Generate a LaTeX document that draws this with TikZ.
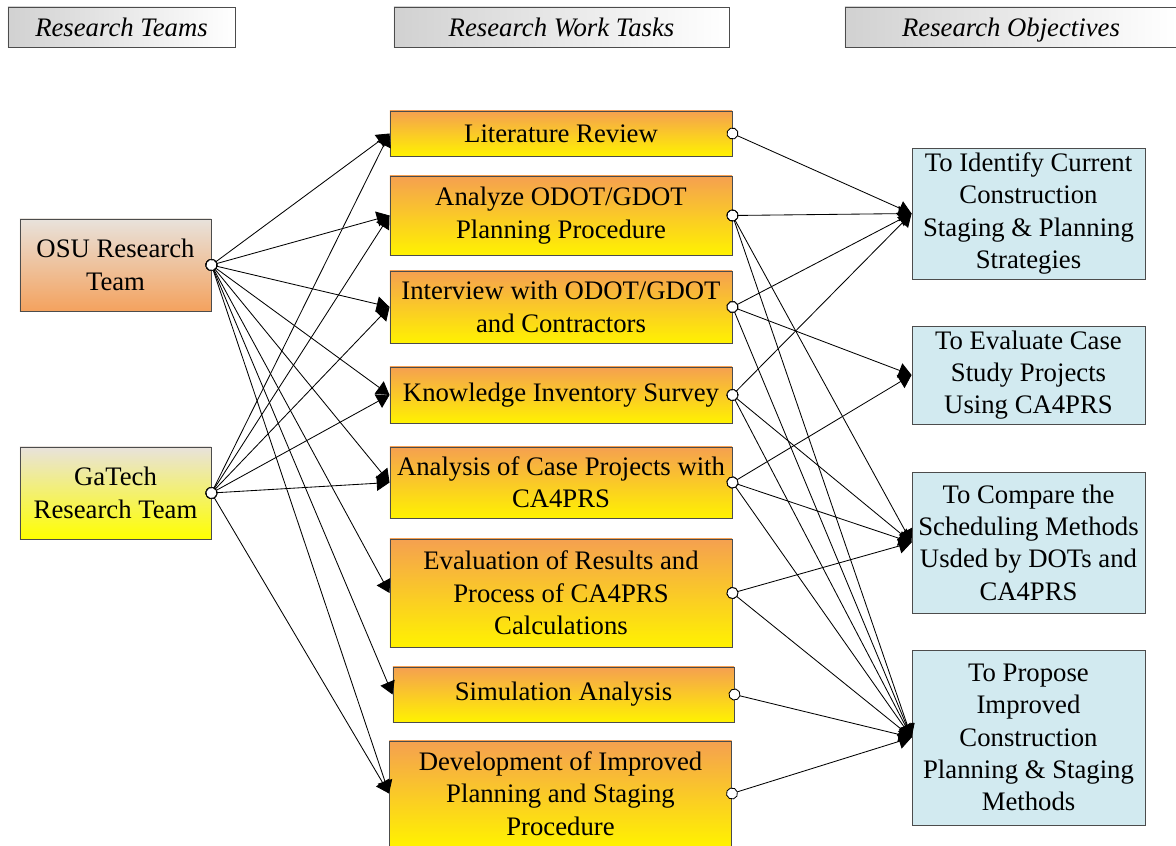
\documentclass[tikz,border=0pt]{standalone}
\usepackage{fontspec}
\setmainfont{Liberation Serif}
\usepackage{xcolor}
\usetikzlibrary{arrows.meta, positioning}

\definecolor{taskorange}{RGB}{245,160,80}
\definecolor{taskyellow}{RGB}{255,242,0}
\definecolor{teamgray}{RGB}{232,226,220}
\definecolor{osuorange}{RGB}{244,162,94}
\definecolor{gayellow}{RGB}{255,255,0}
\definecolor{goalblue}{RGB}{210,234,240}

\begin{document}
\begin{tikzpicture}[
    x=0.025cm, y=-0.025cm,
    box/.style={rectangle, draw=black!70, line width=0.6pt, align=center, inner sep=0pt, font=\fontsize{19}{23}\selectfont},
    header/.style={box, left color=black!18, right color=white, font=\fontsize{19}{23}\selectfont\itshape, minimum height=1cm, text height=13pt, text depth=0pt},
    team/.style={box, minimum width=4.775cm, minimum height=2.3cm},
    task/.style={box, top color=taskorange, bottom color=taskyellow, minimum width=8.55cm},
    goal/.style={box, fill=goalblue, minimum width=5.825cm},
    link/.style={line width=0.6pt, {Circle[fill=white, length=3mm]}-{Triangle[length=3.2mm, width=3.8mm]}, shorten <=-1.5mm}
]
\useasboundingbox (0,0) rectangle (1176,846);

% Headers
\node (hteams) [header, minimum width=5.675cm] at (121.5,27) {Research Teams};
\node (htasks) [header, minimum width=8.375cm] at (561.5,27) {Research Work Tasks};
\node (hgoals) [header, minimum width=8.3cm] at (1011,27) {Research Objectives};

% Research teams
\node (osu) [team, top color=teamgray, bottom color=osuorange] at (115.5,265) {OSU Research\\Team};
\node (gatech) [team, top color=teamgray, bottom color=gayellow] at (115.5,493) {GaTech\\Research Team};

% Work tasks
\node (lit) [task, minimum height=1.125cm] at (561,133.5) {Literature Review};
\node (analyze) [task, minimum height=1.975cm] at (561,215.5) {Analyze ODOT/GDOT\\Planning Procedure};
\node (interview) [task, minimum height=1.8cm] at (561,307) {Interview with ODOT/GDOT\\and Contractors};
\node (survey) [task, minimum height=1.4cm] at (561,395) {Knowledge Inventory Survey};
\node (cases) [task, minimum height=1.775cm] at (561,482.5) {Analysis of Case Projects with\\CA4PRS};
\node (results) [task, minimum height=2.7cm] at (561,593) {Evaluation of Results and\\Process of CA4PRS\\Calculations};
\node (simulation) [task, minimum width=8.525cm, minimum height=1.375cm] at (563.5,694.5) {Simulation Analysis};
\node (develop) [task, minimum height=2.625cm] at (560.5,793.5) {Development of Improved\\Planning and Staging\\Procedure};

% Objectives
\node (identify) [goal, minimum height=3.275cm] at (1028.5,213.5) {To Identify Current\\Construction\\Staging \& Planning\\Strategies};
\node (evaluate) [goal, minimum height=2.45cm] at (1028.5,375) {To Evaluate Case\\Study Projects\\Using CA4PRS};
\node (compare) [goal, minimum height=3.525cm] at (1028.5,542.5) {To Compare the\\Scheduling Methods\\Usded by DOTs and\\CA4PRS};
\node (propose) [goal, minimum height=4.375cm] at (1028.5,737.5) {To Propose\\Improved\\Construction\\Planning \& Staging\\Methods};

% Teams to tasks
\draw [link] (osu.east) -- (lit.west);
\draw [link] (osu.east) -- (analyze.west);
\draw [link] (osu.east) -- (interview.west);
\draw [link] (osu.east) -- (survey.west);
\draw [link] (osu.east) -- (cases.west);
\draw [link] (osu.east) -- (results.west);
\draw [link] (osu.east) -- (simulation.west);
\draw [link] (osu.east) -- (develop.west);
\draw [link] (gatech.east) -- (lit.west);
\draw [link] (gatech.east) -- (analyze.west);
\draw [link] (gatech.east) -- (interview.west);
\draw [link] (gatech.east) -- (survey.west);
\draw [link] (gatech.east) -- (cases.west);
\draw [link] (gatech.east) -- (develop.west);

% Tasks to objectives
\draw [link] (lit.east) -- (identify.west);
\draw [link] (analyze.east) -- (identify.west);
\draw [link] (analyze.east) -- (compare.west);
\draw [link] (analyze.east) -- (propose.west);
\draw [link] (interview.east) -- (identify.west);
\draw [link] (interview.east) -- (evaluate.west);
\draw [link] (interview.east) -- (propose.west);
\draw [link] (survey.east) -- (identify.west);
\draw [link] (survey.east) -- (compare.west);
\draw [link] (survey.east) -- (propose.west);
\draw [link] (cases.east) -- (evaluate.west);
\draw [link] (cases.east) -- (compare.west);
\draw [link] (cases.east) -- (propose.west);
\draw [link] (results.east) -- (compare.west);
\draw [link] (results.east) -- (propose.west);
\draw [link] (simulation.east) -- (propose.west);
\draw [link] (develop.east) -- (propose.west);

\end{tikzpicture}
\end{document}
